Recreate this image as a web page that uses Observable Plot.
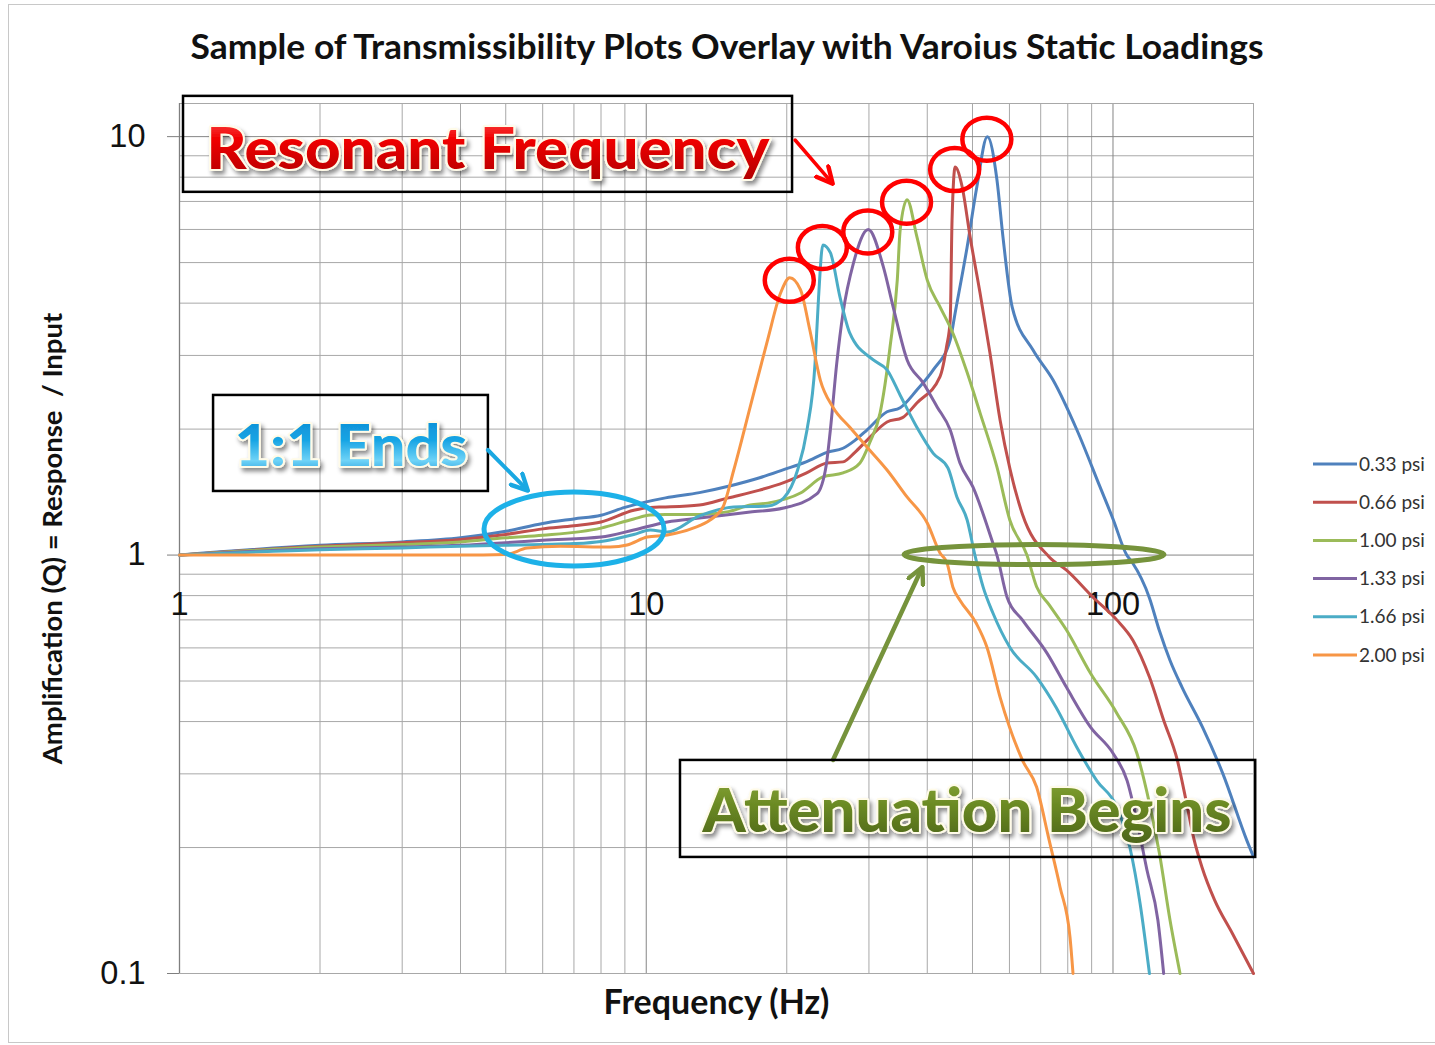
<!DOCTYPE html>
<html>
<head>
<meta charset="utf-8">
<script src="https://cdn.jsdelivr.net/npm/d3@7"></script>
<script src="https://cdn.jsdelivr.net/npm/@observablehq/plot@0.6"></script>
<style>
html,body{margin:0;padding:0;background:#fff;}
#chart{position:relative;width:1435px;height:1045px;overflow:hidden;}
#chart svg{display:block;}
</style>
</head>
<body>
<div id="chart"></div>
<script>
// ---------- data ----------
const seriesNames = ["0.33 psi", "0.66 psi", "1.00 psi", "1.33 psi", "1.66 psi", "2.00 psi"];
const seriesColors = ["#4F81BD", "#C0504D", "#9BBB59", "#8064A2", "#4BACC6", "#F79646"];

const freq033 = [1, 2, 3, 4, 5, 6, 7, 8, 9, 10, 11, 13, 15, 17.5, 19.7, 22, 24.4, 26.4, 28, 29.7, 32.8, 35, 38, 41.2, 44.8, 45.9, 48.7, 51.1, 53.8, 56.4, 58.1, 60.8, 67.4, 74.4, 83.7, 93.8, 100, 107, 110, 119.7, 125.7, 132.5, 140.6, 155.5, 172, 193.5, 200];
const amp033  = [1, 1.055, 1.075, 1.10, 1.14, 1.19, 1.22, 1.245, 1.30, 1.34, 1.37, 1.41, 1.46, 1.53, 1.60, 1.67, 1.76, 1.80, 1.88, 1.99, 2.2, 2.25, 2.48, 2.77, 3.27, 3.79, 5.45, 7.6, 10, 7.9, 5.77, 3.92, 3.09, 2.62, 1.99, 1.455, 1.22, 1.0, 0.96, 0.79, 0.66, 0.56, 0.483, 0.388, 0.30, 0.208, 0.19];

const freq066 = [1, 2, 3, 4, 5, 6, 7, 8, 9.4, 10.2, 11, 13, 15, 17.5, 19.7, 22, 24.4, 26.4, 28, 29.7, 32.8, 35.4, 38, 42.6, 44, 44.8, 45.2, 45.9, 47.5, 49.4, 51.9, 54.5, 57.3, 60.2, 64, 73, 79.5, 90.6, 101.9, 110.3, 119.7, 128.4, 137.4, 143.3, 149, 155, 165, 180, 200];
const amp066  = [1, 1.05, 1.07, 1.09, 1.12, 1.155, 1.175, 1.20, 1.28, 1.30, 1.303, 1.317, 1.37, 1.43, 1.49, 1.57, 1.66, 1.67, 1.76, 1.88, 2.08, 2.13, 2.31, 2.67, 3.15, 3.65, 6.3, 8.46, 7.6, 5.77, 4.23, 3.04, 2.10, 1.6, 1.25, 0.99, 0.92, 0.793, 0.70, 0.626, 0.511, 0.403, 0.323, 0.26, 0.21, 0.18, 0.15, 0.125, 0.1];

const freq100 = [1, 2, 3, 4, 5, 6, 8, 9.4, 10.2, 11, 13, 15, 16.7, 18.2, 21.4, 23.9, 26.4, 28.7, 30.1, 31.7, 33.3, 34.5, 35.0, 36.2, 38.0, 40.0, 42.6, 45.4, 48.7, 51.9, 56.4, 60.1, 65.4, 68.6, 73, 79.5, 89.5, 101.9, 112.5, 119.7, 125.7, 132.5, 139.2];
const amp100  = [1, 1.045, 1.06, 1.075, 1.10, 1.115, 1.16, 1.22, 1.246, 1.25, 1.25, 1.27, 1.317, 1.331, 1.407, 1.537, 1.571, 1.66, 1.853, 2.187, 3.15, 4.54, 5.99, 7.07, 5.77, 4.54, 3.92, 3.39, 2.73, 2.187, 1.624, 1.213, 1.0, 0.84, 0.76, 0.662, 0.522, 0.419, 0.336, 0.255, 0.194, 0.134, 0.1];

const freq133 = [1, 2, 3, 4, 5, 6, 8, 9.4, 11.1, 13, 16.7, 19.7, 23.2, 24.3, 24.8, 25.6, 26.4, 27.8, 29.9, 32.2, 33.8, 36.2, 39.2, 42.0, 44.8, 47.0, 50.1, 55.3, 56.4, 59.3, 64.0, 72.2, 79.5, 89.5, 100, 107.2, 112.5, 118.2, 124.8, 128.4];
const amp133  = [1, 1.035, 1.045, 1.055, 1.07, 1.085, 1.104, 1.148, 1.2, 1.226, 1.267, 1.296, 1.40, 1.64, 1.99, 2.88, 3.79, 4.99, 6.0, 4.89, 3.92, 2.93, 2.58, 2.26, 1.99, 1.66, 1.455, 1.068, 1.0, 0.793, 0.699, 0.583, 0.483, 0.388, 0.336, 0.289, 0.232, 0.177, 0.134, 0.1];

const freq166 = [1, 2, 3, 4, 5, 6, 7, 8, 9.4, 10.2, 11.1, 13.0, 15.4, 18.2, 19.7, 21.1, 22.1, 23.0, 23.4, 23.9, 24.8, 26.0, 27.3, 30.6, 32.8, 35.0, 38.0, 41.2, 44.3, 46.3, 48.7, 50.6, 52.7, 55.3, 60.1, 68.6, 75.5, 83.7, 92.3, 101.9, 108.7, 114.3, 119.7];
const amp166  = [1, 1.03, 1.04, 1.05, 1.055, 1.06, 1.065, 1.078, 1.12, 1.148, 1.135, 1.24, 1.303, 1.31, 1.369, 1.597, 1.99, 2.88, 4.14, 5.51, 5.28, 4.14, 3.39, 2.93, 2.77, 2.41, 2.02, 1.75, 1.615, 1.377, 1.213, 1.0, 0.838, 0.727, 0.602, 0.511, 0.433, 0.347, 0.289, 0.25, 0.2, 0.147, 0.1];

const freq200 = [1, 2, 4, 5, 5.56, 6.55, 8.37, 9.1, 10.05, 11.1, 12.6, 13.7, 14.6, 15.4, 16.7, 18.2, 19.4, 20.3, 21.4, 22.4, 23.6, 25.1, 27.3, 29.7, 32.8, 36.2, 40.0, 42.6, 44.1, 45.4, 47.0, 50.9, 53.7, 57.3, 64.0, 68.6, 73.0, 77.0, 80.9, 82.1];
const amp200  = [1, 1, 1, 1.003, 1.039, 1.05, 1.045, 1.057, 1.104, 1.117, 1.16, 1.213, 1.303, 1.597, 2.26, 3.27, 4.23, 4.6, 4.31, 3.46, 2.62, 2.26, 2.02, 1.813, 1.597, 1.377, 1.193, 1.011, 0.957, 0.838, 0.78, 0.688, 0.602, 0.457, 0.323, 0.279, 0.208, 0.161, 0.122, 0.1];

const xMajor = [1, 10, 100];
const xMinor = [2, 3, 4, 5, 6, 7, 8, 9, 20, 30, 40, 50, 60, 70, 80, 90];
const yMajor = [0.1, 1, 10];
const yMinor = [0.2, 0.3, 0.4, 0.5, 0.6, 0.7, 0.8, 0.9, 2, 3, 4, 5, 6, 7, 8, 9];
const xTickLabels = ["1", "10", "100"];
const yTickLabels = ["0.1", "1", "10"];

const titleText = "Sample of Transmissibility Plots Overlay with Varoius Static Loadings";
const xTitle = "Frequency (Hz)";
const yTitle = "Amplification (Q) = Response  / Input";

// annotations, in data units (frequency, amplification)
const resonantBox = {f1: 1.02, f2: 20.58, q1: 12.48, q2: 7.36};
const resonantText = {f: 4.59, q: 9.37, text: "Resonant Frequency"};
const resonantArrow = {f1: 20.89, q1: 9.79, f2: 25.07, q2: 7.73};
const endsBox = {f1: 1.183, f2: 4.59, q1: 2.407, q2: 1.419};
const endsText = {f: 2.336, q: 1.828, text: "1:1 Ends"};
const endsArrow = {f1: 4.59, q1: 1.778, f2: 5.57, q2: 1.427};
const endsEllipse = {f: 7.02, q: 1.151};
const attenEllipse = {f: 67.9, q: 1.0};
const attenArrow = {f1: 25.19, q1: 0.323, f2: 39.08, q2: 0.929};
const attenBox = {f1: 11.84, f2: 202.2, q1: 0.323, q2: 0.1894};
const attenText = {f: 48.8, q: 0.2453, text: "Attenuation Begins"};

// ---------- build rows ----------
const freqs = [freq033, freq066, freq100, freq133, freq166, freq200];
const amps = [amp033, amp066, amp100, amp133, amp166, amp200];
const rows = seriesNames.flatMap((s, i) => freqs[i].map((f, j) => ({series: s, f, q: amps[i][j]})));

const tickFont = "Liberation Sans, Arial, sans-serif";
const labelFont = "Lato, 'Open Sans', sans-serif";

const plot = Plot.plot({
  width: 1435,
  height: 1045,
  marginLeft: 179,
  marginRight: 182,
  marginTop: 103,
  marginBottom: 72,
  x: {type: "log", domain: [1, 200], axis: null},
  y: {type: "log", domain: [0.1, 12], axis: null},
  color: {domain: seriesNames, range: seriesColors},
  style: {background: "transparent", overflow: "visible"},
  marks: [
    Plot.gridX(xMinor, {stroke: "#a8a8a8", strokeOpacity: 1, strokeWidth: 1}),
    Plot.gridY(yMinor, {stroke: "#a8a8a8", strokeOpacity: 1, strokeWidth: 1}),
    Plot.gridX(xMajor, {stroke: "#858585", strokeOpacity: 1, strokeWidth: 1}),
    Plot.gridY(yMajor, {stroke: "#858585", strokeOpacity: 1, strokeWidth: 1}),
    Plot.frame({stroke: "#a8a8a8"}),
    Plot.ruleX([1], {stroke: "#7f7f7f", strokeWidth: 1.3}),
    Plot.axisY(yMajor, {anchor: "left", tickSize: 12, tickPadding: 22, tickFormat: (d) => yTickLabels[yMajor.indexOf(d)],
      fontSize: 32.5, fontFamily: tickFont, stroke: "#7f7f7f", fill: "#111", label: null}),
    Plot.text(xMajor, {x: (d) => d, y: () => 1, dy: 50, text: (d, i) => xTickLabels[i],
      fontSize: 32.5, fontFamily: tickFont, fill: "#111", textAnchor: "middle", lineAnchor: "middle"}),
    Plot.line(rows, {x: "f", y: "q", z: "series", stroke: "series", strokeWidth: 3, curve: "monotone-x"}),
    Plot.text([xTitle], {frameAnchor: "bottom", dy: 30, lineAnchor: "middle", textAnchor: "middle",
      fontSize: 34, fontWeight: "bold", fontFamily: labelFont, fill: "#111"}),
    Plot.text([yTitle], {frameAnchor: "left", dx: -126, rotate: -90, lineAnchor: "middle", textAnchor: "middle",
      fontSize: 27.5, fontWeight: "bold", fontFamily: labelFont, fill: "#111"})
  ]
});

document.getElementById("chart").appendChild(plot);

// ---------- title, annotations and legend ----------
const sx = plot.scale("x"), sy = plot.scale("y");
const X = (v) => sx.apply(v), Y = (v) => sy.apply(v);
const svg = d3.select(plot);
const defs = svg.append("defs");

svg.append("text").attr("x", 727).attr("y", 47).attr("dy", "0.36em").attr("text-anchor", "middle")
  .attr("font-family", labelFont).attr("font-weight", "bold").attr("font-size", 34)
  .attr("textLength", 1073).attr("lengthAdjust", "spacingAndGlyphs").attr("fill", "#111").text(titleText);

function grad(id, stops) {
  const g = defs.append("linearGradient").attr("id", id).attr("x1", 0).attr("y1", 0).attr("x2", 0).attr("y2", 1);
  stops.forEach(([o, c]) => g.append("stop").attr("offset", o).attr("stop-color", c));
}
grad("gRed", [["0%", "#ff5a5a"], ["40%", "#f00000"], ["100%", "#b00000"]]);
grad("gBlue", [["0%", "#0a86d0"], ["45%", "#16a4e4"], ["75%", "#6fd3f7"], ["100%", "#1591d6"]]);
grad("gGreen", [["0%", "#8aa83a"], ["45%", "#6b8a23"], ["100%", "#4c6419"]]);

const f = defs.append("filter").attr("id", "shadow").attr("x", "-10%").attr("y", "-30%").attr("width", "130%").attr("height", "170%");
f.append("feDropShadow").attr("dx", 2.5).attr("dy", 3.5).attr("stdDeviation", 2.2).attr("flood-color", "#000").attr("flood-opacity", 0.45);

function marker(id, color) {
  defs.append("marker").attr("id", id).attr("viewBox", "0 0 10 10").attr("refX", 8.5).attr("refY", 5)
    .attr("markerWidth", 20).attr("markerHeight", 20).attr("markerUnits", "userSpaceOnUse").attr("orient", "auto")
    .append("path").attr("d", "M1,1 L9,5 L1,9").attr("fill", "none").attr("stroke", color).attr("stroke-width", 2.2)
    .attr("stroke-linecap", "round").attr("stroke-linejoin", "round");
}
marker("aRed", "#ff0000");
marker("aBlue", "#1aa8e2");
marker("aGreen", "#76933c");

const g = svg.append("g");

// outer chart border
g.append("rect").attr("x", 8.5).attr("y", 4.5).attr("width", 1440).attr("height", 1038)
  .attr("fill", "none").attr("stroke", "#c8c8c8").attr("stroke-width", 1);

function box(b) {
  g.append("rect").attr("x", X(b.f1)).attr("y", Y(b.q1))
    .attr("width", X(b.f2) - X(b.f1)).attr("height", Y(b.q2) - Y(b.q1))
    .attr("fill", "none").attr("stroke", "#000").attr("stroke-width", 2.5);
}
function arrow(a, color, id, w) {
  g.append("line").attr("x1", X(a.f1)).attr("y1", Y(a.q1)).attr("x2", X(a.f2)).attr("y2", Y(a.q2))
    .attr("stroke", color).attr("stroke-width", w).attr("stroke-linecap", "round").attr("marker-end", `url(#${id})`);
}
function bigText(t, fill, size, len) {
  g.append("text").attr("x", X(t.f)).attr("y", Y(t.q)).attr("dy", "0.36em")
    .attr("text-anchor", "middle").attr("font-family", labelFont).attr("font-weight", "900")
    .attr("font-size", size).attr("textLength", len).attr("lengthAdjust", "spacingAndGlyphs")
    .attr("fill", fill).attr("stroke", "#fffbe8").attr("stroke-width", 4).attr("paint-order", "stroke")
    .attr("stroke-linejoin", "round").attr("filter", "url(#shadow)").text(t.text);
}

// Resonant frequency
box(resonantBox);
arrow(resonantArrow, "#ff0000", "aRed", 3.5);
bigText(resonantText, "url(#gRed)", 58, 563);

// peak circles
seriesNames.forEach((s, i) => {
  const a = amps[i];
  const k = a.indexOf(Math.max(...a));
  g.append("ellipse").attr("cx", X(freqs[i][k])).attr("cy", Y(a[k]) + 3).attr("rx", 24.5).attr("ry", 21.5)
    .attr("fill", "none").attr("stroke", "#ff0000").attr("stroke-width", 4.5);
});

// 1:1 ends
box(endsBox);
arrow(endsArrow, "#1aa8e2", "aBlue", 4);
bigText(endsText, "url(#gBlue)", 58, 233);
g.append("ellipse").attr("cx", X(endsEllipse.f)).attr("cy", Y(endsEllipse.q)).attr("rx", 90).attr("ry", 37)
  .attr("fill", "none").attr("stroke", "#1db1e8").attr("stroke-width", 5);

// attenuation
g.append("ellipse").attr("cx", X(attenEllipse.f)).attr("cy", Y(attenEllipse.q)).attr("rx", 130).attr("ry", 10)
  .attr("fill", "none").attr("stroke", "#76933c").attr("stroke-width", 5);
arrow(attenArrow, "#76933c", "aGreen", 4.5);
box(attenBox);
bigText(attenText, "url(#gGreen)", 60, 529);

// legend
const lg = svg.append("g").attr("font-family", labelFont).attr("font-size", 19).attr("fill", "#333").attr("text-anchor", "start");
seriesNames.forEach((s, i) => {
  const y = 464 + i * 38.2;
  lg.append("line").attr("x1", 1313).attr("x2", 1357).attr("y1", y).attr("y2", y)
    .attr("stroke", seriesColors[i]).attr("stroke-width", 3);
  lg.append("text").attr("x", 1359).attr("y", y).attr("dy", "0.35em").attr("text-anchor", "start").text(s);
});
</script>
</body>
</html>
